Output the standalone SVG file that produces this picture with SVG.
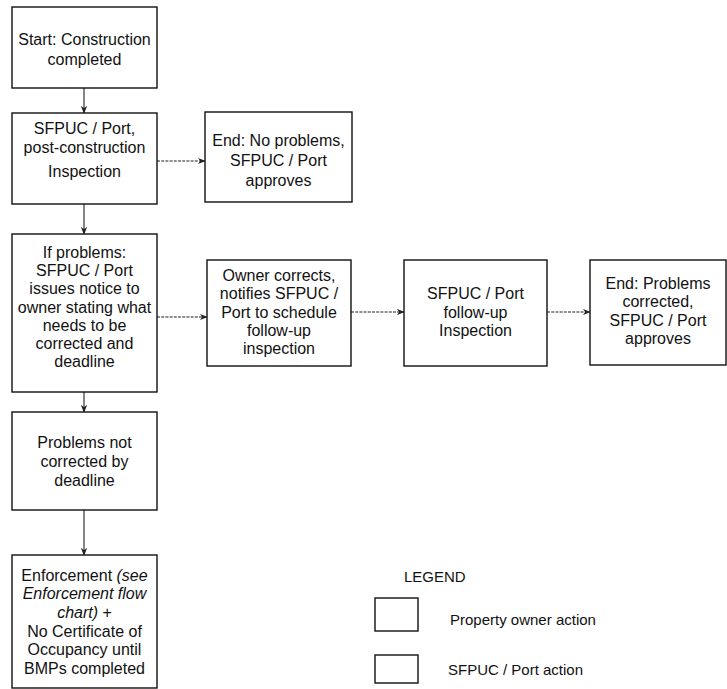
<svg xmlns="http://www.w3.org/2000/svg" width="727" height="689" viewBox="0 0 727 689">
<style>
.box{fill:#fff;stroke:#111;stroke-width:1.4}
.t{font-family:"Liberation Sans",Arial,sans-serif;font-size:16px;fill:#111;text-anchor:middle}
.it{font-style:italic}
.lg{font-family:"Liberation Sans",Arial,sans-serif;font-size:15px;fill:#111}
.c{stroke:#222;stroke-width:1.1;fill:none;marker-end:url(#ah)}
.h{stroke-dasharray:3 1.2}
</style>
<defs>
<marker id="ah" viewBox="0 0 10 10" refX="9" refY="5" markerWidth="8" markerHeight="8" markerUnits="userSpaceOnUse" orient="auto">
<path d="M0,1 L10,5 L0,9 L3,5 Z" fill="#222"/>
</marker>
</defs>
<rect width="727" height="689" fill="#fff"/>
<g id="connectors">
<line class="c" x1="84" y1="88" x2="84" y2="113"/>
<line class="c" x1="84" y1="204" x2="84" y2="234"/>
<line class="c" x1="84" y1="392" x2="84" y2="412"/>
<line class="c" x1="84" y1="510" x2="84" y2="555"/>
<line class="c h" x1="157" y1="161" x2="205" y2="161"/>
<line class="c h" x1="157" y1="317" x2="207" y2="317"/>
<line class="c h" x1="351" y1="312" x2="404" y2="312"/>
<line class="c h" x1="547" y1="312" x2="590" y2="312"/>
</g>
<g id="start">
<rect class="box" x="12" y="7" width="145" height="81"/>
<text class="t" x="84.5" y="45">Start: Construction</text>
<text class="t" x="84.5" y="65">completed</text>
</g>
<g id="inspection">
<rect class="box" x="12" y="113" width="145" height="91"/>
<text class="t" x="84.5" y="134">SFPUC / Port,</text>
<text class="t" x="84.5" y="153">post-construction</text>
<text class="t" x="84.5" y="177">Inspection</text>
</g>
<g id="end-no-problems">
<rect class="box" x="205" y="112" width="147" height="90"/>
<text class="t" x="278.5" y="146">End: No problems,</text>
<text class="t" x="278.5" y="166">SFPUC / Port</text>
<text class="t" x="278.5" y="186">approves</text>
</g>
<g id="notice">
<rect class="box" x="12" y="234" width="145" height="158"/>
<text class="t" x="84.5" y="258">If problems:</text>
<text class="t" x="84.5" y="276">SFPUC / Port</text>
<text class="t" x="84.5" y="294">issues notice to</text>
<text class="t" x="84.5" y="313">owner stating what</text>
<text class="t" x="84.5" y="331">needs to be</text>
<text class="t" x="84.5" y="349">corrected and</text>
<text class="t" x="84.5" y="367">deadline</text>
</g>
<g id="owner-corrects">
<rect class="box" x="207" y="260" width="144" height="106"/>
<text class="t" x="279" y="281">Owner corrects,</text>
<text class="t" x="279" y="299">notifies SFPUC /</text>
<text class="t" x="279" y="318">Port to schedule</text>
<text class="t" x="279" y="336">follow-up</text>
<text class="t" x="279" y="354">inspection</text>
</g>
<g id="follow-up">
<rect class="box" x="404" y="260" width="143" height="106"/>
<text class="t" x="475.5" y="299">SFPUC / Port</text>
<text class="t" x="475.5" y="318">follow-up</text>
<text class="t" x="475.5" y="336">Inspection</text>
</g>
<g id="end-corrected">
<rect class="box" x="590" y="260" width="136" height="105"/>
<text class="t" x="658" y="289">End: Problems</text>
<text class="t" x="658" y="307">corrected,</text>
<text class="t" x="658" y="326">SFPUC / Port</text>
<text class="t" x="658" y="344">approves</text>
</g>
<g id="not-corrected">
<rect class="box" x="12" y="412" width="145" height="98"/>
<text class="t" x="84.5" y="448">Problems not</text>
<text class="t" x="84.5" y="467">corrected by</text>
<text class="t" x="84.5" y="486">deadline</text>
</g>
<g id="enforcement">
<rect class="box" x="12" y="555" width="145" height="133"/>
<text class="t" x="84.5" y="581">Enforcement <tspan class="it">(see</tspan></text>
<text class="t it" x="84.5" y="599">Enforcement flow</text>
<text class="t" x="84.5" y="618"><tspan class="it">chart)</tspan> +</text>
<text class="t" x="84.5" y="637">No Certificate of</text>
<text class="t" x="84.5" y="655">Occupancy until</text>
<text class="t" x="84.5" y="674">BMPs completed</text>
</g>
<g id="legend">
<text class="lg" x="404" y="582">LEGEND</text>
<rect class="box" x="375" y="598" width="43" height="33"/>
<text class="lg" x="450" y="625">Property owner action</text>
<rect class="box" x="375" y="655" width="43" height="28"/>
<text class="lg" x="448" y="675">SFPUC / Port action</text>
</g>
</svg>
